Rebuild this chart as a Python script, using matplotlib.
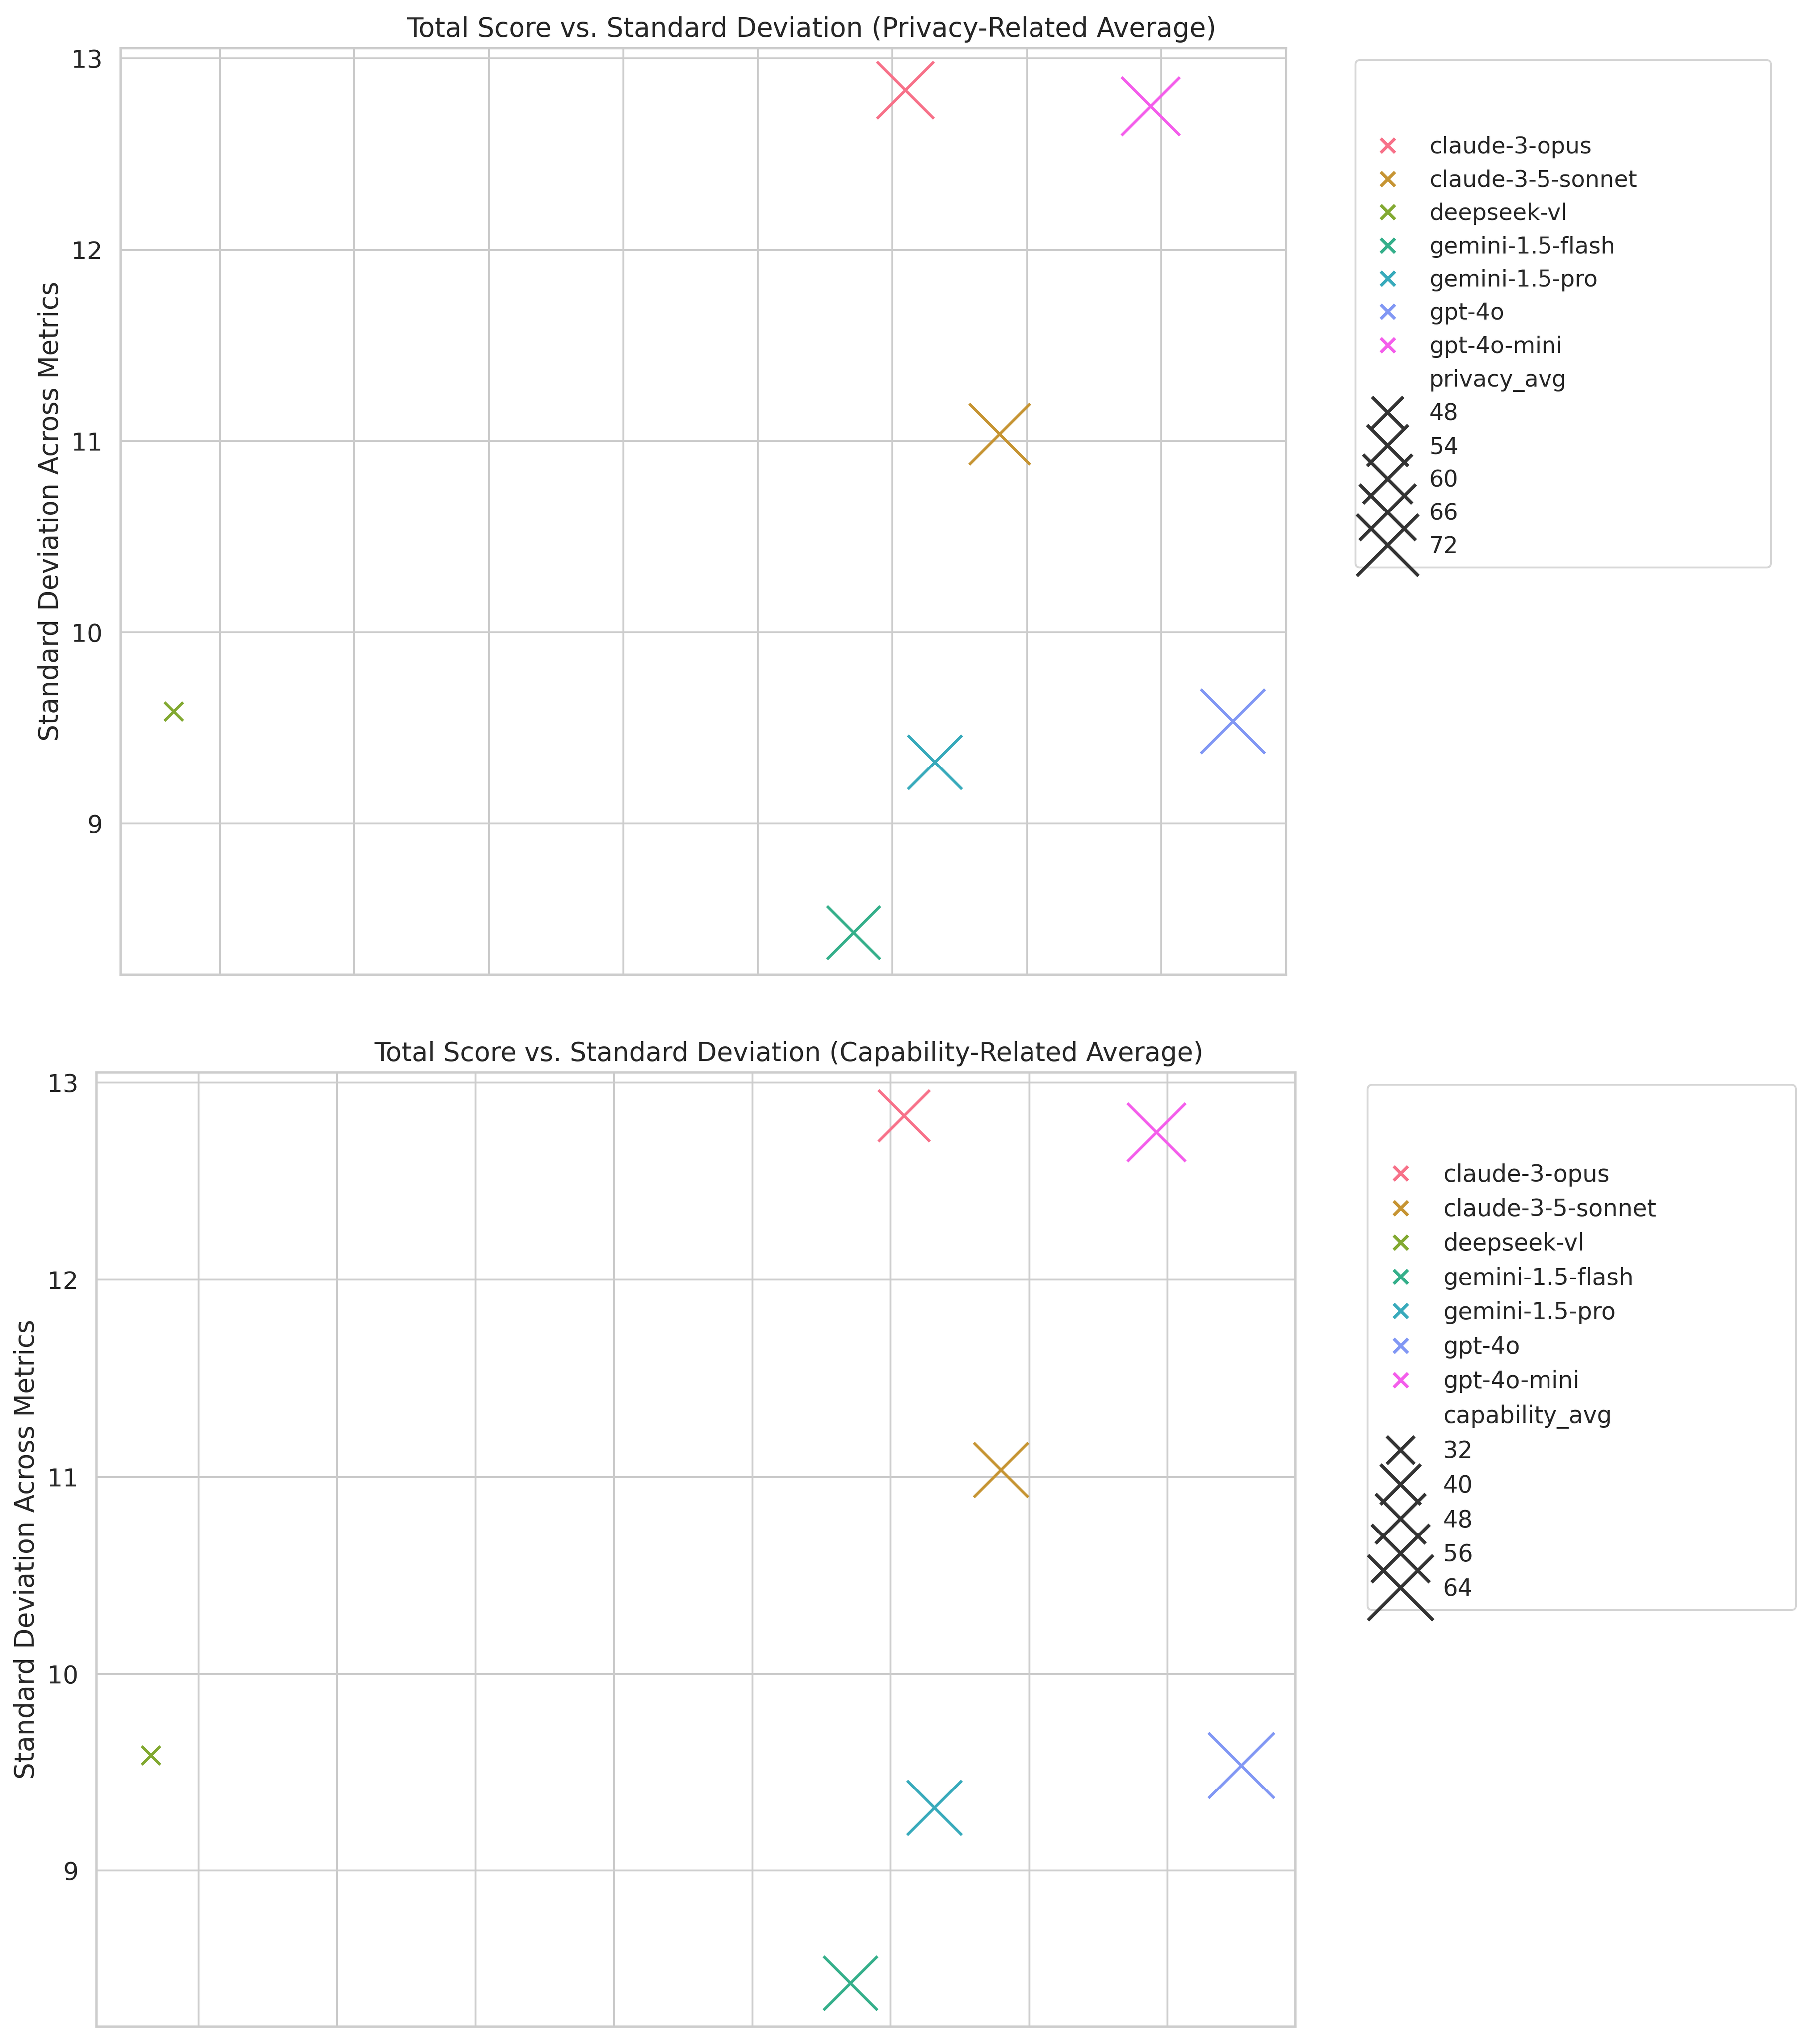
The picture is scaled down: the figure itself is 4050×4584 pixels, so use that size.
import matplotlib
matplotlib.use("Agg")
import matplotlib.pyplot as plt
from matplotlib.lines import Line2D
from matplotlib.ticker import MultipleLocator
import numpy as np
import seaborn as sns

# ---------------- data ----------------
models = ["claude-3-opus", "claude-3-5-sonnet", "deepseek-vl", "gemini-1.5-flash",
          "gemini-1.5-pro", "gpt-4o", "gpt-4o-mini"]
total_score = [401.9, 415.9, 293.1, 394.2, 406.3, 450.6, 438.4]
std_dev = [12.833, 11.037, 9.587, 8.431, 9.320, 9.536, 12.750]
privacy_avg = [66.9, 70.9, 42.5, 63.4, 64.3, 74.3, 68.2]
capability_avg = [49.3, 52.3, 28.0, 51.7, 52.6, 64.9, 56.2]
privacy_levels = [48, 54, 60, 66, 72]
capability_levels = [32, 40, 48, 56, 64]

titles = ["Total Score vs. Standard Deviation (Privacy-Related Average)",
          "Total Score vs. Standard Deviation (Capability-Related Average)"]
size_names = ["privacy_avg", "capability_avg"]
ylabel = "Standard Deviation Across Metrics"

# ---------------- style ----------------
sns.set_theme(style="whitegrid", font_scale=1.2)
plt.rcParams["font.family"] = ["DejaVu Sans"]
palette = sns.color_palette("husl", len(models))

W, H = 4050, 4584
fig = plt.figure(figsize=(W / 300, H / 300), dpi=300)

def px_axes(left, top, right, bottom):
    return fig.add_axes([left / W, 1 - bottom / H, (right - left) / W, (bottom - top) / H])

axes_px = [(270, 108, 2883, 2185), (216, 2405, 2905, 4544)]
legend_px = [(3040, 135, 3971), (3067, 2433, 4027)]
size_ranges = [(100, 1190), (100, 1250)]
legend_fs = [12.35, 12.65]
title_fs = [14.3, 14.0]
title_x = [0.593, 0.5775]

for i, (sizes_data, levels) in enumerate([(privacy_avg, privacy_levels),
                                           (capability_avg, capability_levels)]):
    ax = px_axes(*axes_px[i])
    vmin, vmax = min(sizes_data), max(sizes_data)
    smin, smax = size_ranges[i]

    def to_s(v):
        return smin + (v - vmin) / (vmax - vmin) * (smax - smin)

    for m, x, y, v, c in zip(models, total_score, std_dev, sizes_data, palette):
        ax.scatter([x], [y], s=[to_s(v)], marker="x", color=c, linewidths=1.5, zorder=3)

    ax.xaxis.set_major_locator(MultipleLocator(20))
    ax.tick_params(axis="x", labelbottom=False)
    ax.set_ylabel(ylabel)
    ax.set_xlabel("")
    ax.set_title(titles[i], fontsize=title_fs[i], x=title_x[i])

    # legend
    blank = Line2D([], [], linestyle="", marker="")
    handles = [blank, blank]
    labels = ["", ""]
    for m, c in zip(models, palette):
        handles.append(Line2D([], [], linestyle="", marker="x", color=c,
                              markersize=7.5, markeredgewidth=1.7))
        labels.append(m)
    handles.append(Line2D([], [], linestyle="", marker=""))
    labels.append(size_names[i])
    for lv in levels:
        handles.append(Line2D([], [], linestyle="", marker="x", color=".2",
                              markersize=np.sqrt(to_s(lv)), markeredgewidth=1.8))
        labels.append(str(lv))

    F = legend_fs[i] * 300 / 72
    lx0, ltop, lx1 = legend_px[i]
    pad = 0.5 * F
    bx0 = lx0 - pad
    bw = (lx1 - lx0) + 2 * pad
    btop = ltop - pad
    bh = 1000
    ax.legend(handles, labels, loc="upper left",
              bbox_to_anchor=(bx0 / W, 1 - (btop + bh) / H, bw / W, bh / H),
              bbox_transform=fig.transFigure, mode="expand",
              fontsize=legend_fs[i], labelspacing=0.48, frameon=True)

fig.savefig("out.png", dpi=300)
